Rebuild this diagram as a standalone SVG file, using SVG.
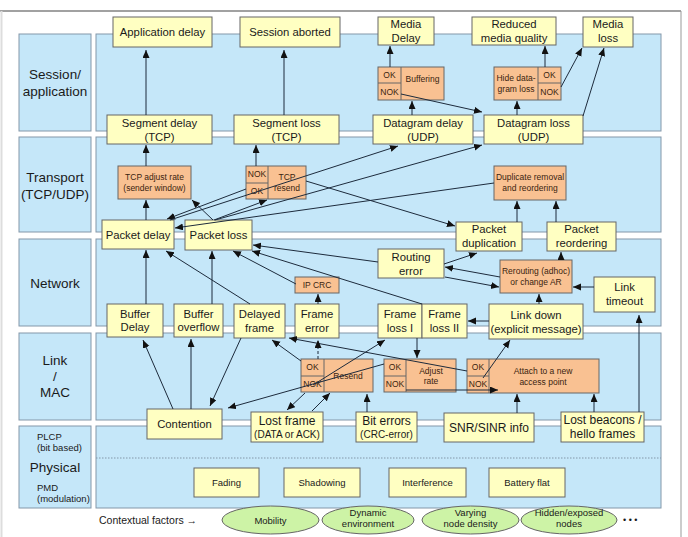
<svg xmlns="http://www.w3.org/2000/svg" width="688" height="537" viewBox="0 0 688 537">
<defs>
<marker id="a" markerUnits="userSpaceOnUse" markerWidth="9" markerHeight="8" refX="8" refY="3.5" orient="auto"><path d="M0,0 L8,3.5 L0,7 z" fill="#111"/></marker>
<style>
.lay{fill:#c5e7f9;stroke:#8397a9;stroke-width:1}
.n{fill:#ffffc2;stroke:#666;stroke-width:1}
.o{fill:#f9c192;stroke:#666;stroke-width:1}
.e{fill:#cdf3a6;stroke:#666;stroke-width:1}
text{font-family:"Liberation Sans",Arial,sans-serif;fill:#1a1a1a}
.t{font-size:11.3px;text-anchor:middle}
.s{font-size:10px;text-anchor:middle}
.ot{font-size:8.5px;text-anchor:middle;fill:#3a2410}
.L{font-size:13.5px;text-anchor:middle}
.p{font-size:9.5px}
.pc{font-size:9.5px;text-anchor:middle}
.cn line{stroke:#1d2b3c;stroke-width:1;marker-end:url(#a)}
.dv{stroke:#666;stroke-width:1;fill:none}
</style>
</defs>
<rect x="0" y="0" width="688" height="537" fill="#fff"/>
<line x1="0" y1="11" x2="681" y2="11" stroke="#444" stroke-width="1.2"/>
<line x1="681" y1="11" x2="681" y2="537" stroke="#999" stroke-width="1"/>
<line x1="1.5" y1="11" x2="1.5" y2="537" stroke="#ddd" stroke-width="2"/>

<g id="layers">
<rect class="lay" x="19" y="34" width="72" height="97"/>
<rect class="lay" x="96" y="34" width="565" height="97"/>
<rect class="lay" x="19" y="137" width="72" height="95"/>
<rect class="lay" x="96" y="137" width="565" height="95"/>
<rect class="lay" x="19" y="239" width="72" height="87"/>
<rect class="lay" x="96" y="239" width="565" height="87"/>
<rect class="lay" x="19" y="333" width="72" height="87"/>
<rect class="lay" x="96" y="333" width="565" height="87"/>
<rect class="lay" x="19" y="426" width="72" height="82"/>
<rect class="lay" x="96" y="426" width="565" height="82"/>
<line x1="96" y1="458" x2="661" y2="458" stroke="#8397a9" stroke-dasharray="1.5,1.5"/>
<text class="L" x="55" y="79">Session/</text>
<text class="L" x="55" y="96">application</text>
<text class="L" x="55" y="182">Transport</text>
<text class="L" x="55" y="199">(TCP/UDP)</text>
<text class="L" x="55" y="288">Network</text>
<text class="L" x="55" y="365">Link</text>
<text class="L" x="55" y="381">/</text>
<text class="L" x="55" y="397">MAC</text>
<text class="p" x="37" y="439.5">PLCP</text>
<text class="p" x="37" y="450.5">(bit based)</text>
<text class="L" x="55" y="472">Physical</text>
<text class="p" x="37" y="490.5">PMD</text>
<text class="p" x="37" y="501.5">(modulation)</text>
</g>

<g id="app-delay"><rect class="n" x="113" y="17" width="99" height="30"/><text class="t" x="162.5" y="36">Application delay</text></g>
<g id="session-aborted"><rect class="n" x="240" y="17" width="100" height="30"/><text class="t" x="290" y="36">Session aborted</text></g>
<g id="media-delay"><rect class="n" x="378" y="17" width="56" height="28"/><text class="t" x="406" y="28">Media</text><text class="t" x="406" y="42">Delay</text></g>
<g id="reduced-quality"><rect class="n" x="472" y="17" width="84" height="28"/><text class="t" x="514" y="28">Reduced</text><text class="t" x="514" y="42">media quality</text></g>
<g id="media-loss"><rect class="n" x="583" y="17" width="50" height="30"/><text class="t" x="608" y="28">Media</text><text class="t" x="608" y="42">loss</text></g>

<g id="buffering"><rect class="o" x="378" y="67" width="66" height="33"/><path class="dv" d="M401,67 V100 M378,83 H401"/><text class="ot" x="389.5" y="78">OK</text><text class="ot" x="389.5" y="95">NOK</text><text class="ot" x="422.5" y="82">Buffering</text></g>
<g id="hide-loss"><rect class="o" x="494" y="67" width="67" height="33"/><path class="dv" d="M538,67 V100 M538,83 H561"/><text class="ot" x="516" y="81">Hide data-</text><text class="ot" x="516" y="92">gram loss</text><text class="ot" x="549.5" y="78">OK</text><text class="ot" x="549.5" y="95">NOK</text></g>

<g id="segment-delay"><rect class="n" x="107" y="115" width="105" height="29"/><text class="t" x="159.5" y="127">Segment delay</text><text class="t" x="159.5" y="141">(TCP)</text></g>
<g id="segment-loss"><rect class="n" x="234" y="115" width="105" height="29"/><text class="t" x="286.5" y="127">Segment loss</text><text class="t" x="286.5" y="141">(TCP)</text></g>
<g id="datagram-delay"><rect class="n" x="373" y="115" width="100" height="29"/><text class="t" x="423" y="127">Datagram delay</text><text class="t" x="423" y="141">(UDP)</text></g>
<g id="datagram-loss"><rect class="n" x="484" y="115" width="99" height="29"/><text class="t" x="533.5" y="127">Datagram loss</text><text class="t" x="533.5" y="141">(UDP)</text></g>

<g id="tcp-adjust"><rect class="o" x="118" y="166" width="73" height="33"/><text class="ot" x="154.5" y="180">TCP adjust rate</text><text class="ot" x="154.5" y="191">(sender window)</text></g>
<g id="tcp-resend"><rect class="o" x="246" y="166" width="60" height="33"/><path class="dv" d="M268,166 V199 M246,183 H268"/><text class="ot" x="257" y="177">NOK</text><text class="ot" x="257" y="194">OK</text><text class="ot" x="287" y="180">TCP</text><text class="ot" x="287" y="191">resend</text></g>
<g id="dup-removal"><rect class="o" x="494" y="166" width="72" height="34"/><text class="ot" x="530" y="180">Duplicate removal</text><text class="ot" x="530" y="191">and reordering</text></g>

<g id="packet-delay"><rect class="n" x="102" y="220" width="72" height="29"/><text class="t" x="138" y="239">Packet delay</text></g>
<g id="packet-loss"><rect class="n" x="185" y="220" width="67" height="30"/><text class="t" x="218.5" y="239">Packet loss</text></g>
<g id="packet-dup"><rect class="n" x="456" y="222" width="66" height="29"/><text class="t" x="489" y="233">Packet</text><text class="t" x="489" y="247">duplication</text></g>
<g id="packet-reorder"><rect class="n" x="547" y="222" width="69" height="29"/><text class="t" x="581.5" y="233">Packet</text><text class="t" x="581.5" y="247">reordering</text></g>

<g id="routing-error"><rect class="n" x="378" y="249" width="66" height="29"/><text class="t" x="411" y="261">Routing</text><text class="t" x="411" y="275">error</text></g>
<g id="ip-crc"><rect class="o" x="295" y="277" width="44" height="16"/><text class="ot" x="317" y="288">IP CRC</text></g>
<g id="rerouting"><rect class="o" x="500" y="260" width="72" height="33"/><text class="ot" x="536" y="274">Rerouting (adhoc)</text><text class="ot" x="536" y="285">or change AR</text></g>
<g id="link-timeout"><rect class="n" x="594" y="277" width="61" height="35"/><text class="t" x="624.5" y="291">Link</text><text class="t" x="624.5" y="305">timeout</text></g>

<g id="buffer-delay"><rect class="n" x="107" y="304" width="56" height="33"/><text class="t" x="135" y="318">Buffer</text><text class="t" x="135" y="331">Delay</text></g>
<g id="buffer-overflow"><rect class="n" x="174" y="304" width="49" height="33"/><text class="t" x="198.5" y="318">Buffer</text><text class="t" x="198.5" y="331">overflow</text></g>
<g id="delayed-frame"><rect class="n" x="234" y="304" width="51" height="34"/><text class="t" x="259.5" y="318">Delayed</text><text class="t" x="259.5" y="332">frame</text></g>
<g id="frame-error"><rect class="n" x="295" y="304" width="44" height="34"/><text class="t" x="317" y="318">Frame</text><text class="t" x="317" y="332">error</text></g>
<g id="frame-loss-1"><rect class="n" x="378" y="304" width="44" height="34"/><text class="t" x="400" y="318">Frame</text><text class="t" x="400" y="332">loss I</text></g>
<g id="frame-loss-2"><rect class="n" x="422" y="304" width="45" height="34"/><text class="t" x="444.5" y="318">Frame</text><text class="t" x="444.5" y="332">loss II</text></g>
<g id="link-down"><rect class="n" x="489" y="304" width="94" height="35"/><text class="t" x="536" y="319">Link down</text><text class="t" x="536" y="333">(explicit message)</text></g>

<g id="resend"><rect class="o" x="301" y="359" width="72" height="33"/><path class="dv" d="M324,359 V392 M301,376 H324"/><text class="ot" x="312.5" y="370">OK</text><text class="ot" x="312.5" y="387">NOK</text><text class="ot" x="348" y="379">Resend</text></g>
<g id="adjust-rate"><rect class="o" x="384" y="359" width="72" height="33"/><path class="dv" d="M406,359 V392 M384,376 H406"/><text class="ot" x="395" y="370">OK</text><text class="ot" x="395" y="387">NOK</text><text class="ot" x="431" y="374">Adjust</text><text class="ot" x="431" y="384">rate</text></g>
<g id="attach"><rect class="o" x="467" y="359" width="132" height="34"/><path class="dv" d="M489,359 V393 M467,376 H489"/><text class="ot" x="478" y="370">OK</text><text class="ot" x="478" y="387">NOK</text><text class="ot" x="543" y="374">Attach to a new</text><text class="ot" x="543" y="385">access point</text></g>

<g id="contention"><rect class="n" x="147" y="409" width="75" height="30"/><text class="t" x="184.5" y="428">Contention</text></g>
<g id="lost-frame"><rect class="n" x="251" y="412" width="72" height="30"/><text class="t" x="287" y="425" style="font-size:12px">Lost  frame</text><text class="s" x="287" y="438">(DATA or ACK)</text></g>
<g id="bit-errors"><rect class="n" x="356" y="412" width="61" height="30"/><text class="t" x="386.5" y="425" style="font-size:12px">Bit errors</text><text class="s" x="386.5" y="438">(CRC-error)</text></g>
<g id="snr"><rect class="n" x="444" y="413" width="90" height="29"/><text class="t" x="489" y="432" style="font-size:12px">SNR/SINR info</text></g>
<g id="lost-beacons"><rect class="n" x="561" y="412" width="83" height="30"/><text class="t" x="602.5" y="424" style="font-size:12px">Lost beacons /</text><text class="t" x="602.5" y="438" style="font-size:12px">hello frames</text></g>

<g id="fading"><rect class="n" x="194" y="468" width="65" height="29"/><text class="pc" x="226.5" y="486">Fading</text></g>
<g id="shadowing"><rect class="n" x="284" y="468" width="76" height="29"/><text class="pc" x="322" y="486">Shadowing</text></g>
<g id="interference"><rect class="n" x="389" y="468" width="77" height="29"/><text class="pc" x="427.5" y="486">Interference</text></g>
<g id="battery"><rect class="n" x="489" y="468" width="76" height="29"/><text class="pc" x="527" y="486">Battery flat</text></g>

<g id="context">
<text x="99" y="524" style="font-size:10.5px">Contextual factors  →</text>
<g id="mobility"><ellipse class="e" cx="270.5" cy="520" rx="48.5" ry="14"/><text class="pc" x="270.5" y="523.5">Mobility</text></g>
<g id="dynamic"><ellipse class="e" cx="368" cy="520" rx="46" ry="14"/><text class="pc" x="368" y="516">Dynamic</text><text class="pc" x="368" y="527">environment</text></g>
<g id="varying"><ellipse class="e" cx="470.5" cy="520" rx="48.5" ry="14"/><text class="pc" x="470.5" y="516">Varying</text><text class="pc" x="470.5" y="527">node density</text></g>
<g id="hidden"><ellipse class="e" cx="569" cy="520" rx="48" ry="14"/><text class="pc" x="569" y="516">Hidden/exposed</text><text class="pc" x="569" y="527">nodes</text></g>
<text x="623" y="523" style="font-size:9px">• • •</text>
</g>

<g id="connectors" class="cn">
<line x1="146" y1="115" x2="146" y2="50"/>
<line x1="284" y1="115" x2="284" y2="50"/>
<line x1="390" y1="67" x2="390" y2="46"/>
<line x1="412" y1="115" x2="412" y2="101"/>
<line x1="401" y1="94" x2="482" y2="112"/>
<line x1="517" y1="115" x2="517" y2="101"/>
<line x1="545" y1="67" x2="545" y2="46"/>
<line x1="561" y1="87" x2="582" y2="48"/>
<line x1="583" y1="116" x2="604" y2="48"/>
<line x1="146" y1="166" x2="146" y2="145"/>
<line x1="256" y1="166" x2="256" y2="145"/>
<line x1="146" y1="220" x2="146" y2="200"/>
<line x1="213" y1="220" x2="192" y2="200"/>
<line x1="214" y1="220" x2="267" y2="200"/>
<line x1="246" y1="189" x2="167" y2="219"/>
<line x1="170" y1="220" x2="398" y2="146"/>
<line x1="215" y1="220" x2="482" y2="145"/>
<line x1="494" y1="183" x2="175" y2="228"/>
<line x1="306" y1="181" x2="455" y2="226"/>
<line x1="517" y1="222" x2="517" y2="201"/>
<line x1="556" y1="222" x2="556" y2="201"/>
<line x1="378" y1="262" x2="253" y2="245"/>
<line x1="422" y1="304" x2="252" y2="251"/>
<line x1="296" y1="284" x2="233" y2="251"/>
<line x1="212" y1="304" x2="212" y2="251"/>
<line x1="146" y1="304" x2="146" y2="250"/>
<line x1="250" y1="304" x2="166" y2="251"/>
<line x1="318" y1="304" x2="318" y2="294"/>
<line x1="444" y1="264" x2="477" y2="253"/>
<line x1="500" y1="277" x2="445" y2="267"/>
<line x1="445" y1="277" x2="499" y2="287"/>
<line x1="561" y1="260" x2="561" y2="252"/>
<line x1="594" y1="287" x2="573" y2="287"/>
<line x1="539" y1="304" x2="539" y2="294"/>
<line x1="489" y1="321" x2="468" y2="321"/>
<line x1="639" y1="412" x2="639" y2="315"/>
<line x1="173" y1="409" x2="143" y2="340"/>
<line x1="191" y1="409" x2="191" y2="339"/>
<line x1="241" y1="338" x2="210" y2="406"/>
<line x1="384" y1="364" x2="228" y2="408"/>
<line x1="467" y1="371" x2="289" y2="338"/>
<line x1="301" y1="361" x2="272" y2="340"/>
<line x1="313" y1="385" x2="385" y2="340"/>
<line x1="312" y1="411" x2="330" y2="393"/>
<line x1="305" y1="393" x2="287" y2="410"/>
<line x1="367" y1="412" x2="367" y2="394"/>
<line x1="417" y1="338" x2="417" y2="358"/>
<line x1="318" y1="359" x2="318" y2="340" stroke-dasharray="3,2"/>
<line x1="517" y1="413" x2="517" y2="394"/>
<line x1="594" y1="412" x2="594" y2="394"/>
<line x1="483" y1="378" x2="510" y2="340"/>
<line x1="406" y1="390" x2="498" y2="390"/>
</g>
</svg>
